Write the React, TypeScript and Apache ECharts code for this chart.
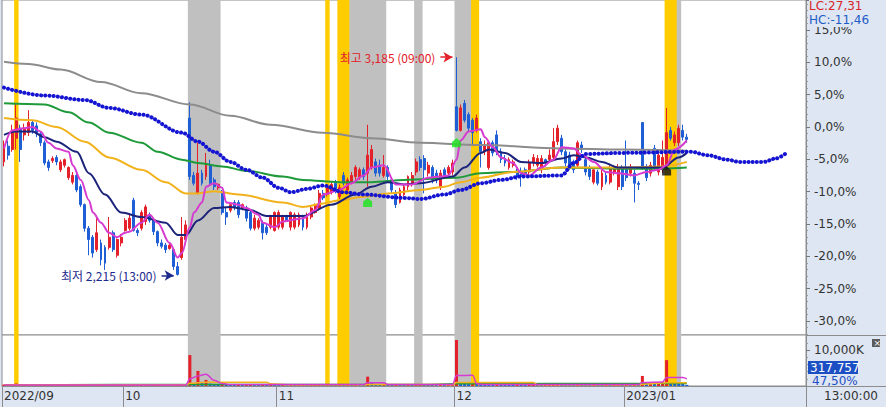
import React, { useEffect, useRef } from 'react';
import * as echarts from 'echarts';

// ---------- data ----------
const BASE_PRICE = 2875; // 0,0% reference price
const SLOTS = 199;
const MONTH_TICKS: [number, string][] = [[0, '2022/09'], [30, '10'], [68, '11'], [112, '12'], [154, '2023/01']];

// [open, close, low, high]
const OHLC: [number, number, number, number][] = [
  [2720,2795,2700,2815],[2790,2750,2730,2815],[2775,2860,2765,2885],[2825,2915,2775,2980],[2870,2775,2720,2885],
  [2840,2870,2815,2890],[2850,2895,2835,2950],[2895,2860,2845,2905],[2880,2845,2830,2895],[2845,2805,2790,2855],
  [2805,2715,2705,2815],[2720,2695,2680,2730],[2725,2735,2715,2745],[2740,2720,2705,2750],[2685,2720,2675,2730],
  [2705,2730,2695,2735],[2650,2695,2640,2700],[2630,2660,2620,2675],[2660,2595,2585,2670],[2610,2530,2520,2620],
  [2530,2425,2410,2535],[2425,2375,2305,2435],[2385,2315,2295,2395],[2330,2405,2320,2470],[2360,2285,2260,2375],
  [2340,2270,2240,2350],[2340,2385,2330,2475],[2405,2330,2320,2415],[2305,2375,2295,2380],[2360,2385,2345,2400],
  [2415,2460,2410,2470],[2425,2470,2415,2485],[2550,2415,2410,2560],[2415,2405,2390,2425],[2425,2495,2415,2505],
  [2455,2520,2440,2530],[2485,2460,2450,2495],[2460,2410,2395,2470],[2410,2360,2345,2415],[2360,2345,2335,2375],
  [2350,2330,2315,2360],[2335,2350,2330,2360],[2330,2255,2240,2335],[2255,2220,2215,2275],[2295,2385,2285,2475],
  [2375,2440,2365,2460],[2915,2655,2640,2985],[2660,2625,2615,2675],[2580,2670,2575,2805],[2670,2625,2615,2685],
  [2655,2715,2640,2760],[2705,2625,2615,2730],[2640,2610,2595,2650],[2605,2620,2595,2625],[2585,2495,2485,2595],
  [2495,2475,2440,2515],[2505,2530,2495,2535],[2540,2520,2505,2550],[2540,2485,2470,2550],[2515,2530,2505,2535],
  [2515,2470,2455,2525],[2495,2425,2415,2505],[2425,2470,2415,2485],[2430,2460,2420,2470],[2450,2405,2375,2460],
  [2430,2405,2395,2440],[2430,2475,2420,2485],[2415,2495,2410,2500],[2430,2495,2420,2505],[2430,2475,2420,2485],
  [2475,2460,2455,2485],[2430,2495,2415,2500],[2430,2485,2420,2495],[2440,2485,2430,2495],[2475,2430,2415,2485],
  [2430,2475,2420,2495],[2475,2515,2465,2525],[2495,2530,2490,2535],[2515,2580,2505,2595],[2580,2560,2550,2595],
  [2575,2605,2565,2620],[2585,2620,2575,2630],[2625,2595,2580,2640],[2565,2605,2555,2620],[2660,2625,2615,2675],
  [2595,2640,2580,2650],[2625,2660,2620,2675],[2655,2695,2640,2705],[2650,2685,2640,2695],[2685,2655,2640,2695],
  [2670,2750,2610,2885],[2695,2775,2685,2795],[2720,2670,2655,2735],[2705,2670,2655,2730],[2660,2695,2650,2750],
  [2695,2655,2640,2705],[2640,2595,2580,2650],[2580,2530,2515,2595],[2540,2595,2535,2605],[2575,2610,2565,2620],
  [2610,2655,2595,2660],[2620,2660,2610,2675],[2675,2720,2660,2735],[2730,2695,2680,2745],[2735,2685,2580,2750],
  [2670,2705,2655,2720],[2695,2640,2625,2705],[2670,2640,2625,2685],[2610,2670,2595,2685],[2685,2655,2645,2695],
  [2670,2695,2655,2705],[2675,2715,2660,2730],[2965,2860,2855,3185],[2860,2960,2855,2975],[2980,2905,2895,2995],
  [2930,2870,2855,2940],[2905,2850,2795,2915],[2860,2915,2850,2930],[2810,2765,2695,2825],[2765,2795,2750,2815],
  [2695,2805,2685,2815],[2805,2760,2745,2815],[2840,2765,2750,2860],[2765,2730,2715,2780],[2735,2715,2700,2750],
  [2695,2730,2685,2740],[2705,2720,2695,2730],[2675,2655,2640,2690],[2675,2655,2610,2695],[2685,2665,2655,2695],
  [2675,2715,2660,2730],[2715,2740,2700,2755],[2705,2735,2695,2750],[2685,2735,2670,2750],[2730,2715,2700,2735],
  [2730,2750,2715,2775],[2740,2810,2730,2870],[2810,2870,2795,2885],[2825,2765,2750,2840],[2765,2715,2700,2775],
  [2750,2695,2685,2765],[2720,2685,2670,2730],[2705,2805,2695,2815],[2795,2775,2760,2810],[2730,2675,2660,2740],
  [2695,2655,2640,2705],[2630,2685,2620,2695],[2675,2625,2615,2685],[2610,2670,2595,2685],[2660,2630,2620,2675],
  [2630,2695,2620,2705],[2675,2695,2660,2705],[2610,2695,2595,2710],[2695,2610,2595,2705],[2695,2650,2635,2815],
  [2670,2695,2655,2710],[2670,2625,2540,2685],[2625,2620,2595,2635],[2895,2695,2685,2895],[2695,2650,2635,2710],
  [2670,2705,2655,2720],[2780,2695,2685,2795],[2675,2750,2660,2765],[2685,2740,2670,2815],[2695,2850,2685,2960],
  [2860,2825,2815,2875],[2805,2840,2790,2855],[2805,2870,2790,2885],[2860,2830,2815,2885],[2830,2820,2805,2845],
];

const VOLUME_K = [
  420, 380, 510, 690, 450, 330, 360, 280, 260, 300,
  410, 350, 220, 240, 260, 230, 300, 280, 350, 420,
  520, 480, 450, 380, 410, 390, 360, 300, 280, 260,
  310, 290, 380, 240, 330, 350, 260, 300, 320, 240,
  220, 210, 380, 450, 520, 480, 8600, 820, 4200, 900,
  1700, 650, 520, 430, 460, 380, 300, 260, 280, 240,
  250, 270, 230, 220, 260, 240, 250, 230, 210, 260,
  220, 240, 230, 250, 270, 260, 290, 300, 340, 310,
  420, 380, 360, 400, 350, 380, 330, 360, 340, 320,
  2600, 900, 520, 450, 480, 380, 320, 360, 300, 280,
  310, 290, 380, 420, 360, 300, 280, 260, 300, 270,
  310, 340, 12800, 1000, 900, 700, 800, 600, 520, 450,
  420, 380, 400, 350, 320, 300, 280, 310, 290, 270,
  300, 320, 290, 280, 300, 350, 420, 480, 400, 350,
  320, 300, 380, 340, 310, 290, 300, 280, 270, 300,
  290, 310, 330, 300, 380, 320, 420, 360, 2800, 900,
  1100, 800, 950, 1000, 7200, 800, 750, 700, 650, 318,
];

// indicator lines: [slot, price]
const MA_GRAY: [number, number][] = [[0,3165],[6,3155],[14,3130],[24,3075],[34,3025],[46,2975],[56,2925],[66,2885],[79,2850],[91,2825],[103,2805],[118,2795],[138,2780],[153,2775],[169,2770]];
const LEAD_DOTS: [number, number][] = [[0,3050],[10,3015],[20,2995],[26,2960],[34,2930],[44,2850],[48,2810],[52,2765],[56,2720],[60,2685],[64,2650],[68,2605],[71,2585],[75,2600],[79,2615],[84,2585],[89,2575],[99,2560],[103,2555],[109,2575],[113,2595],[118,2625],[123,2640],[128,2655],[138,2660],[141,2715],[144,2755],[153,2760],[170,2765],[174,2750],[179,2730],[182,2720],[188,2720],[191,2735],[194,2765]];
const MA_GREEN: [number, number][] = [[0,2980],[10,2975],[16,2940],[21,2895],[26,2850],[34,2805],[38,2765],[44,2730],[48,2715],[54,2700],[60,2680],[69,2655],[74,2640],[83,2630],[91,2630],[99,2640],[112,2650],[118,2670],[126,2675],[138,2695],[153,2690],[163,2690],[169,2695]];
const MA_ORANGE: [number, number][] = [[0,2915],[7,2905],[13,2875],[20,2810],[26,2740],[34,2685],[40,2630],[45,2580],[48,2580],[52,2590],[58,2575],[69,2540],[74,2520],[79,2535],[83,2550],[89,2565],[95,2580],[103,2595],[109,2610],[113,2630],[118,2650],[126,2675],[138,2695],[153,2695],[163,2700],[169,2720]];
const MA_NAVY: [number, number][] = [[0,2840],[3,2855],[7,2855],[10,2830],[13,2810],[18,2765],[21,2670],[25,2575],[29,2495],[34,2475],[40,2450],[43,2395],[45,2395],[48,2460],[52,2515],[56,2520],[61,2505],[65,2480],[74,2480],[81,2530],[87,2575],[91,2610],[95,2630],[99,2620],[103,2625],[111,2655],[114,2695],[118,2760],[120,2775],[124,2760],[128,2720],[133,2715],[138,2735],[141,2750],[144,2740],[148,2720],[152,2695],[157,2695],[163,2695],[167,2740],[169,2760]];
const MA_MAGENTA: [number, number][] = [[0,2780],[2,2860],[5,2870],[7,2875],[9,2855],[11,2805],[13,2780],[16,2765],[17,2705],[19,2640],[21,2550],[22,2495],[24,2450],[26,2405],[28,2385],[30,2405],[31,2410],[34,2450],[36,2485],[38,2450],[41,2360],[43,2295],[44,2315],[46,2430],[47,2495],[49,2540],[50,2610],[52,2625],[54,2605],[55,2540],[58,2530],[60,2515],[63,2485],[64,2450],[67,2430],[69,2455],[74,2470],[77,2505],[79,2575],[83,2595],[86,2625],[89,2660],[91,2695],[94,2705],[97,2620],[101,2620],[105,2650],[108,2655],[110,2660],[112,2730],[113,2815],[115,2855],[118,2865],[119,2830],[121,2785],[123,2740],[126,2715],[128,2670],[130,2660],[133,2695],[136,2730],[138,2785],[141,2780],[143,2750],[146,2720],[149,2675],[152,2670],[156,2660],[159,2675],[162,2685],[164,2705],[166,2775],[169,2815]];

const VOL_MA5: [number, number][] = [[0,300],[45,300],[46,2000],[48,2800],[50,3300],[52,1600],[54,700],[56,400],[89,400],[90,900],[94,900],[95,400],[111,400],[112,2900],[116,3000],[117,600],[119,400],[157,400],[158,1000],[163,1100],[164,2400],[168,2400],[169,2000]];
const VOL_MA20: [number, number][] = [[0,320],[45,330],[46,740],[50,1050],[65,1050],[66,600],[70,330],[89,320],[90,440],[109,440],[110,330],[111,330],[112,960],[131,960],[132,380],[157,380],[158,500],[164,900],[169,920]];
const VOL_MA60: [number, number][] = [[0,300],[46,450],[105,450],[112,650],[169,700]];

// highlighted slot runs: [firstSlot, lastSlot]
const GOLD_RUNS: [number, number][] = [[3, 3], [80, 80], [83, 85], [116, 117], [164, 166]];
const GRAY_RUNS: [number, number][] = [[46, 53], [86, 94], [102, 103], [112, 115], [167, 167]];

const SIGNAL_SLOT = [90, 112, 164];
const SIGNAL_PRICE = [2540, 2805, 2680];
const SIGNAL_COLOR = ['#19e619', '#19e619', '#111111'];

const HIGH_SLOT = 112, HIGH_PRICE = 3185, HIGH_TIME = '09:00';
const LOW_SLOT = 43, LOW_PRICE = 2215, LOW_TIME = '13:00';
const LAST_VOLUME = 317757;
const VOLUME_RATIO = '47,50%';

// ---------- helpers ----------
const UP = '#e4202a';
const DOWN = '#1f5fd6';
const PANEL = '#dde6f2';
const pct = (p: number) => (p / BASE_PRICE - 1) * 100;
const fmtPct = (v: number) => v.toFixed(1).replace('.', ',') + '%';
const toPctLine = (arr: [number, number][]) => arr.map(([i, p]) => [i, pct(p)]);
const NUM_FONT = "'DejaVu Sans', sans-serif";
const KR_FONT = "'Noto Sans CJK KR', sans-serif";

function buildOption() {
  const cats = Array.from({ length: SLOTS }, (_, i) => String(i));
  const monthMap = new Map(MONTH_TICKS);
  const bands = [
    ...GOLD_RUNS.map(([a, b]) => [a, b, 1]),
    ...GRAY_RUNS.map(([a, b]) => [a, b, 2]),
  ];
  const last = OHLC[OHLC.length - 1][1];
  const lastPct = pct(last);
  const lastPctText = (Math.round(lastPct * 100) / 100).toFixed(2).replace('.', ',') + '%';

  const bandSeries = (xi: number) => ({
    type: 'custom',
    xAxisIndex: xi,
    yAxisIndex: xi,
    z: 1,
    silent: true,
    encode: { x: [0, 1] },
    data: bands,
    renderItem: (params: any, api: any) => {
      const w = api.size([1, 0])[0];
      const x0 = api.coord([api.value(0), 0])[0] - w / 2;
      const x1 = api.coord([api.value(1), 0])[0] + w / 2;
      const cs = params.coordSys;
      return {
        type: 'rect',
        shape: { x: x0, y: cs.y, width: x1 - x0 + 0.4, height: cs.height },
        style: { fill: api.value(2) === 1 ? '#ffcc00' : '#c0c0c0' },
      };
    },
  });

  const line = (data: [number, number][], color: string, width: number, xi = 0, conv = true, extra: any = {}) => ({
    type: 'line',
    xAxisIndex: xi,
    yAxisIndex: xi,
    data: conv ? toPctLine(data) : data,
    showSymbol: false,
    symbol: 'none',
    smooth: 0.35,
    smoothMonotone: 'x',
    z: 4,
    silent: true,
    lineStyle: { color, width, ...extra },
  });

  return {
    animation: false,
    textStyle: { fontFamily: NUM_FONT },
    grid: [
      { left: 2, top: 0, width: 804, height: 335, show: true, backgroundColor: '#ffffff', borderColor: '#8c8c8c', borderWidth: 1 },
      { left: 2, top: 335, width: 804, height: 51, show: true, backgroundColor: '#ffffff', borderColor: '#8c8c8c', borderWidth: 1 },
    ],
    xAxis: [
      { type: 'category', gridIndex: 0, data: cats, show: false, boundaryGap: true },
      {
        type: 'category', gridIndex: 1, data: cats, boundaryGap: true,
        axisLine: { show: true, lineStyle: { color: '#8c8c8c' } },
        axisTick: { show: true, length: 21, interval: (i: number) => monthMap.has(i), lineStyle: { color: '#8c8c8c' } },
        axisLabel: {
          show: true, interval: (i: number) => monthMap.has(i), formatter: (_v: string, i: number) => monthMap.get(i) || '',
          align: 'left', margin: 4, fontSize: 12, color: '#333', fontFamily: NUM_FONT,
        },
      },
    ],
    yAxis: [
      {
        type: 'value', gridIndex: 0, position: 'right', min: pct(BASE_PRICE * (1 - 0.3215)), max: 19.63, splitNumber: 10,
        splitLine: { show: false },
        axisLine: { show: true, lineStyle: { color: '#8c8c8c' } },
        axisTick: { show: true, length: 4, lineStyle: { color: '#777' } },
        minorTick: { show: true, splitNumber: 5, length: 2, lineStyle: { color: '#999' } },
        axisLabel: { formatter: (v: number) => fmtPct(v), showMinLabel: false, showMaxLabel: false, margin: 8, fontSize: 12, color: '#333' },
      },
      {
        type: 'value', gridIndex: 1, position: 'right', min: 0, max: 14200, interval: 10000,
        splitLine: { show: false },
        axisLine: { show: true, lineStyle: { color: '#8c8c8c' } },
        axisTick: { show: true, length: 4, lineStyle: { color: '#777' } },
        minorTick: { show: true, splitNumber: 5, length: 2, lineStyle: { color: '#999' } },
        axisLabel: { formatter: (v: number) => (v === 10000 ? '10,000K' : ''), showMinLabel: false, showMaxLabel: false, margin: 8, fontSize: 12, color: '#333' },
      },
    ],
    series: [
      bandSeries(0),
      bandSeries(1),
      {
        type: 'candlestick',
        xAxisIndex: 0, yAxisIndex: 0, z: 3, silent: true,
        barWidth: 2.4,
        data: OHLC.map((d) => d.map(pct)),
        itemStyle: { color: UP, color0: DOWN, borderColor: UP, borderColor0: DOWN, borderWidth: 1 },
        markLine: {
          silent: true, animation: false, symbol: ['none', 'none'],
          data: [
            [
              { coord: [HIGH_SLOT - 4, pct(HIGH_PRICE)], symbol: 'none', lineStyle: { color: '#e4202a', width: 1.5, type: 'solid' },
                label: { show: true, position: 'start', distance: 5, formatter: `최고 ${HIGH_PRICE.toLocaleString('en-US')} (${HIGH_TIME})`, color: '#e4202a', fontSize: 12, fontFamily: KR_FONT } },
              { coord: [HIGH_SLOT - 1, pct(HIGH_PRICE)], symbol: 'arrow', symbolSize: [8, 9] },
            ],
            [
              { coord: [LOW_SLOT - 4, pct(LOW_PRICE)], symbol: 'none', lineStyle: { color: '#1b2a8c', width: 1.5, type: 'solid' },
                label: { show: true, position: 'start', distance: 5, formatter: `최저 ${LOW_PRICE.toLocaleString('en-US')} (${LOW_TIME})`, color: '#1b2a8c', fontSize: 12, fontFamily: KR_FONT } },
              { coord: [LOW_SLOT - 1, pct(LOW_PRICE)], symbol: 'arrow', symbolSize: [8, 9] },
            ],
            {
              yAxis: lastPct, symbol: 'none', lineStyle: { opacity: 0 },
              label: {
                show: true, position: 'end', distance: 2, padding: [15, 0, 0, 0],
                formatter: `{a|${last.toLocaleString('en-US')}}\n{b|${lastPctText}}`,
                rich: {
                  a: { backgroundColor: '#1d4fc4', color: '#ffffff', fontSize: 12, width: 46, lineHeight: 14, padding: [0, 2, 0, 2], fontFamily: NUM_FONT },
                  b: { color: '#1d4fc4', backgroundColor: PANEL, fontSize: 12, lineHeight: 12, width: 46, padding: [0, 2, 0, 4], fontFamily: NUM_FONT },
                },
              },
            },
          ],
        },
      },
      line(MA_GRAY, '#8c8c8c', 2),
      line(MA_GREEN, '#1f9a3a', 2),
      line(MA_ORANGE, '#f2b21c', 2),
      line(MA_NAVY, '#1b237a', 2),
      line(MA_MAGENTA, '#d63ad0', 2),
      line(LEAD_DOTS, '#1414d2', 4, 0, true, { type: [0.1, 4.1], cap: 'round' }),
      {
        type: 'scatter', xAxisIndex: 0, yAxisIndex: 0, z: 6, silent: true,
        symbol: 'path://M5,0L10,4L10,10L0,10L0,4Z', symbolSize: [9, 9],
        data: SIGNAL_SLOT.map((s, k) => ({ value: [s, pct(SIGNAL_PRICE[k])], itemStyle: { color: SIGNAL_COLOR[k] } })),
      },
      {
        type: 'bar', xAxisIndex: 1, yAxisIndex: 1, z: 3, silent: true, barWidth: 3,
        data: VOLUME_K.map((v, i) => ({ value: v, itemStyle: { color: i > 0 && v < VOLUME_K[i - 1] ? DOWN : UP } })),
      },
      line(VOL_MA60, '#1f9a3a', 1.5, 1, false),
      line(VOL_MA20, '#f2b21c', 1.5, 1, false),
      line(VOL_MA5, '#d63ad0', 1.5, 1, false),
    ],
    graphic: [
      { type: 'line', z: 50, shape: { x1: 806, y1: 335.5, x2: 886, y2: 335.5 }, style: { stroke: '#8c8c8c', lineWidth: 1 } },
      { type: 'line', z: 50, shape: { x1: 806, y1: 386.5, x2: 886, y2: 386.5 }, style: { stroke: '#8c8c8c', lineWidth: 1 } },
      { type: 'line', z: 50, shape: { x1: 806.5, y1: 386, x2: 806.5, y2: 407 }, style: { stroke: '#8c8c8c', lineWidth: 1 } },
      { type: 'text', z: 60, x: 809, y: 0, style: { text: 'LC:27,31', fill: '#d9242a', fontSize: 12, fontFamily: NUM_FONT, backgroundColor: PANEL } },
      { type: 'text', z: 60, x: 809, y: 14, style: { text: 'HC:-11,46', fill: '#1f5bc6', fontSize: 12, fontFamily: NUM_FONT, backgroundColor: PANEL, padding: [0, 2, 1, 0] } },
      { type: 'rect', z: 60, shape: { x: 872, y: 339, width: 8, height: 8 }, style: { fill: '#5a5a5a' } },
      { type: 'text', z: 61, x: 873.5, y: 338, style: { text: '×', fill: '#ffffff', fontSize: 9, fontFamily: NUM_FONT } },
      { type: 'text', z: 60, x: 808, y: 361, style: { text: LAST_VOLUME.toLocaleString('en-US'), fill: '#ffffff', fontSize: 12, fontFamily: NUM_FONT, backgroundColor: '#1d4fc4', width: 46, padding: [1, 2, 0, 2] } },
      { type: 'text', z: 60, x: 812, y: 375, style: { text: VOLUME_RATIO, fill: '#1d4fc4', fontSize: 12, fontFamily: NUM_FONT } },
      { type: 'text', z: 60, x: 824, y: 390, style: { text: '13:00:00', fill: '#333', fontSize: 12, fontFamily: NUM_FONT } },
    ],
  };
}

export default function App() {
  const ref = useRef<HTMLDivElement>(null);
  useEffect(() => {
    if (!ref.current) return;
    const chart = echarts.init(ref.current, undefined, { renderer: 'svg' });
    chart.setOption(buildOption() as any);
    return () => chart.dispose();
  }, []);
  return (
    <div
      ref={ref}
      style={{ position: 'fixed', left: 0, top: 0, width: 886, height: 407, background: PANEL }}
    />
  );
}
